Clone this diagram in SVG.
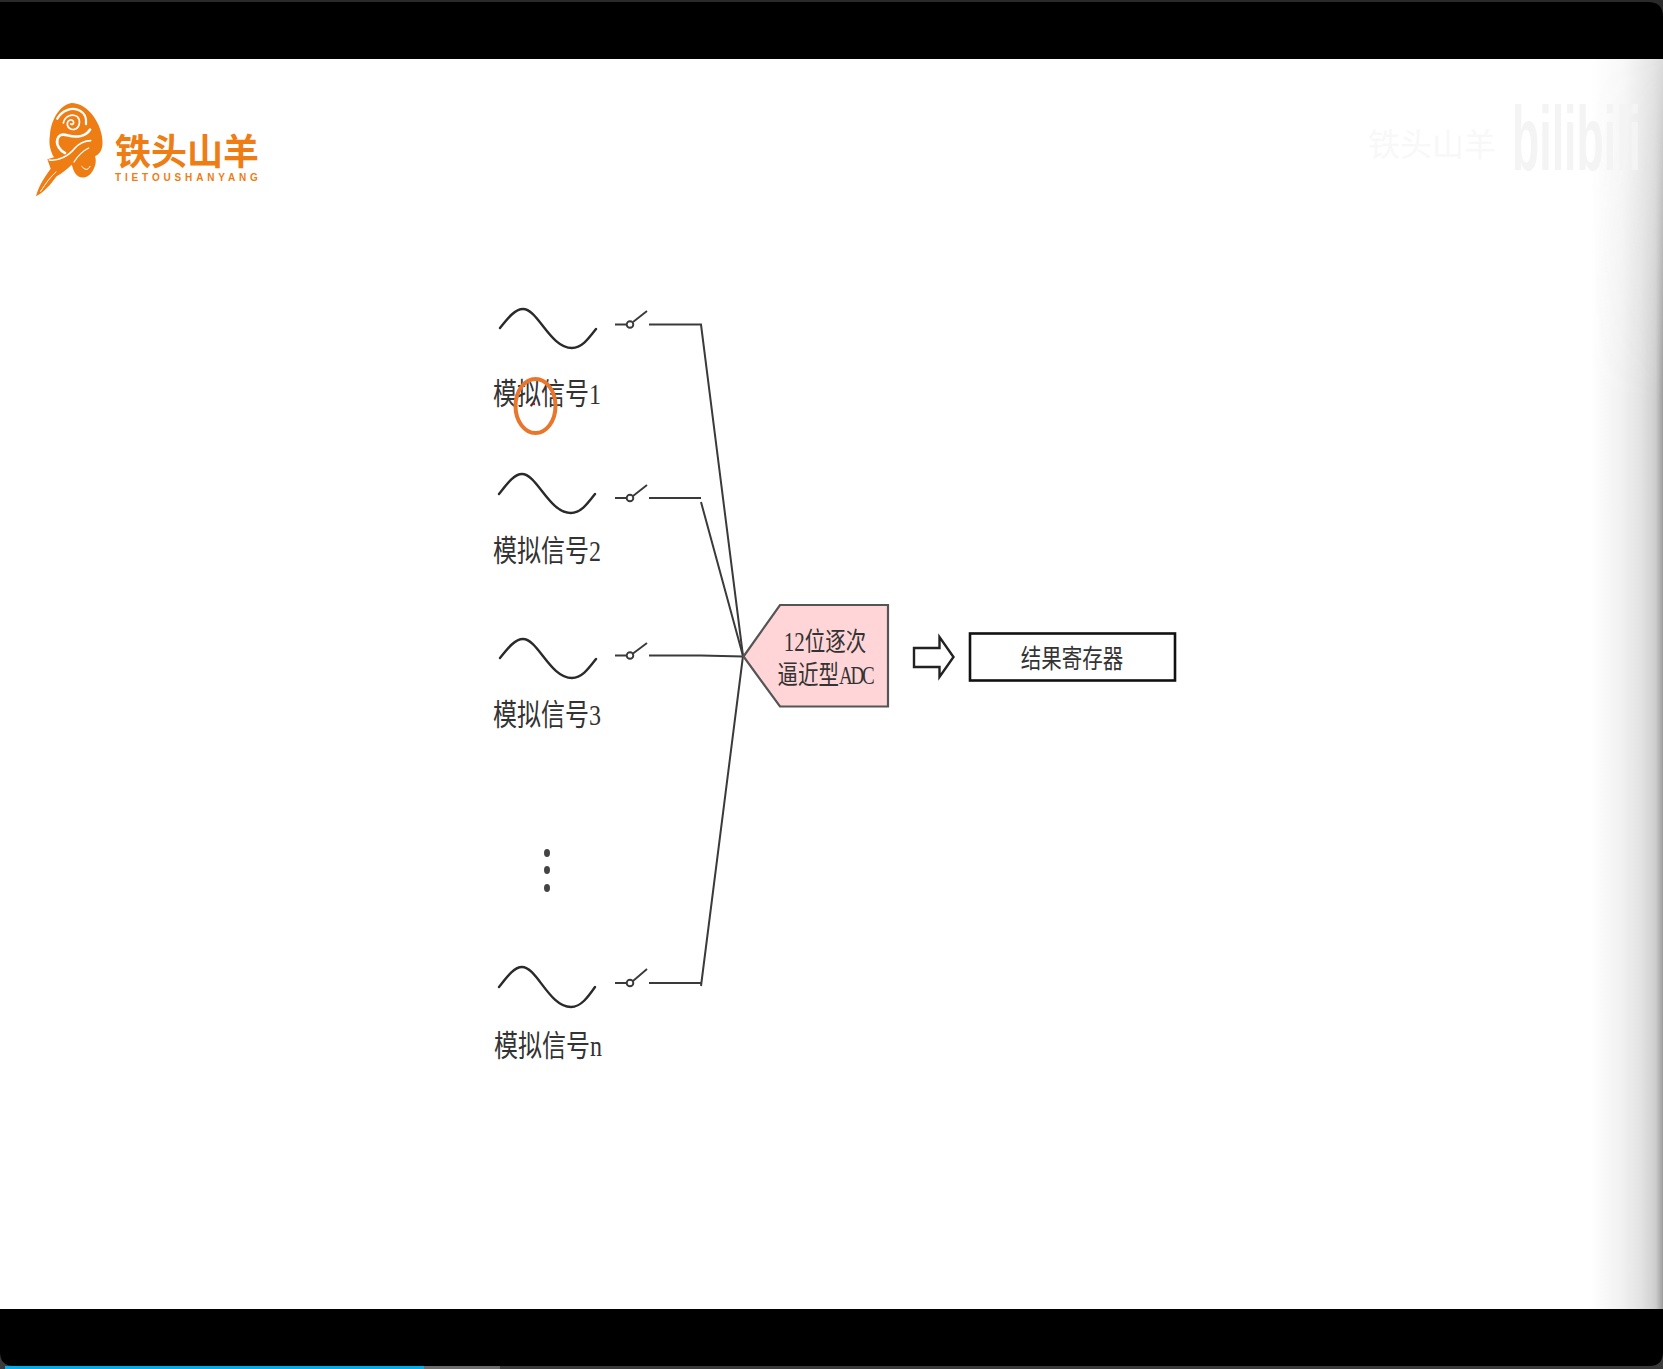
<svg xmlns="http://www.w3.org/2000/svg" width="1663" height="1369" viewBox="0 0 1663 1369">
<defs>
<linearGradient id="fade" x1="0" x2="1" y1="0" y2="0"><stop offset="0" stop-color="#fff"/><stop offset="0.45" stop-color="#f8f8f8"/><stop offset="0.85" stop-color="#e6e6e6"/><stop offset="1" stop-color="#dcdcdc"/></linearGradient>
<linearGradient id="fade2" x1="0" x2="1" y1="0" y2="0"><stop offset="0" stop-color="#888" stop-opacity="0"/><stop offset="0.7" stop-color="#888" stop-opacity="0.1"/><stop offset="0.9" stop-color="#777" stop-opacity="0.2"/><stop offset="1" stop-color="#666" stop-opacity="0.55"/></linearGradient>
<linearGradient id="vert" gradientUnits="userSpaceOnUse" x1="0" x2="0" y1="59" y2="400"><stop offset="0" stop-color="#000"/><stop offset="1" stop-color="#fff"/></linearGradient>
<mask id="lower" maskUnits="userSpaceOnUse" x="1590" y="59" width="73" height="1250"><rect x="1590" y="59" width="73" height="1250" fill="url(#vert)"/></mask>
</defs>
<style>
.lbl{font-family:"Liberation Serif","Noto Sans CJK SC",serif;font-size:24px;fill:#333}
.wave{fill:none;stroke:#2a2a2a;stroke-width:2.4;stroke-linecap:round}
.wire{fill:none;stroke:#3a3a3a;stroke-width:2}
.sw{fill:none;stroke:#3a3a3a;stroke-width:1.9}
.in{font-family:"Liberation Serif","Noto Sans CJK SC",serif;font-size:20.5px;fill:#333}
.logo{fill:#ee7d14}
.cut{fill:none;stroke:#fff;stroke-linecap:round}
</style>
<rect width="1663" height="1369" fill="#fff"/>
<rect x="1590" y="59" width="73" height="1250" fill="url(#fade)"/>
<rect x="1590" y="59" width="73" height="1250" fill="url(#fade2)" mask="url(#lower)"/>
<g id="watermark">
<text x="1368" y="156" font-family="Noto Sans CJK SC,sans-serif" font-size="32" fill="#f8f8f8">铁头山羊</text>
<text transform="translate(1512 170) scale(0.72 1.45)" font-family="Liberation Sans,sans-serif" font-weight="700" font-size="62" fill="#f4f4f4">bilibili</text>
</g>
<rect width="1663" height="59" fill="#2a2a2a"/>
<path d="M0 2H1648Q1663 2 1663 17V59H0Z" fill="#000"/>
<rect y="1309" width="1663" height="60" fill="#3a3a3a"/>
<path d="M0 1309H1663V1352Q1663 1366 1649 1366H14Q0 1366 0 1352Z" fill="#000"/>
<rect x="5" y="1366" width="419" height="3" fill="#00aeec"/>
<rect x="424" y="1366" width="76" height="3" fill="#6d6d6d"/>
<g id="logo">
<g transform="translate(30 98) scale(0.3333)">
<path class="logo" d="M125 15C165 15 205 60 215 110C222 145 215 165 195 175C200 190 196 205 190 215C178 240 150 248 135 225C128 212 128 205 125 200C110 215 95 225 80 235C60 262 40 285 18 295C25 265 45 235 62 212L52 184L72 178C62 160 55 140 60 110C63 65 90 20 125 15Z"/>
<path class="cut" stroke-width="7" d="M82 62C95 38 125 25 150 38C165 46 170 62 168 78"/>
<path class="cut" stroke-width="8" d="M180 95C165 118 135 118 112 112C95 106 85 112 82 125C78 142 92 160 105 165"/>
<path class="cut" stroke-width="5" d="M100 75C104 55 125 45 142 56C152 66 150 85 138 92C126 98 112 92 112 78C112 66 124 62 130 70C133 76 128 82 122 78"/>
<path class="cut" stroke-width="5" d="M58 186C85 190 115 175 135 150C145 138 165 128 182 128"/>
<path class="cut" stroke-width="4" d="M132 192C146 170 160 158 176 150"/>
<path class="cut" stroke-width="3" d="M32 280C48 255 62 236 78 222"/>
<path class="cut" stroke-width="3" d="M155 205C165 215 172 220 180 205"/>
</g>
<text x="115" y="165" font-family="Noto Sans CJK SC,sans-serif" font-weight="700" font-size="36" class="logo">铁头山羊</text>
<text x="115" y="181" font-family="Liberation Sans,sans-serif" font-weight="700" font-size="10" letter-spacing="3.85" class="logo">TIETOUSHANYANG</text>
</g>
<g id="connectors">
<path class="wire" d="M649 324.5H701L743 656"/>
<path class="wire" d="M649 498H701M701 502L743 656"/>
<path class="wire" d="M649 655.5H701L743 656.5"/>
<path class="wire" d="M649 983H702M701 986L743 656"/>
<path d="M914 648H939.5V637L953.5 657L939.5 677V667H914Z" fill="#fff" stroke="#222" stroke-width="2.4"/>
</g>
<g id="signal1">
<path class="wave" d="M500 328C508 318 515 309 523 309C538 309 550 348 572 348C582 348 589 338 596 329"/>
<path class="sw" d="M615 324.5H627M633 322L647 311"/><circle class="sw" cx="630" cy="324.5" r="3.3"/>
<text class="lbl" transform="translate(493 404) scale(1 1.25)">模拟信号1</text>
</g>
<g id="signal2">
<path class="wave" d="M499 494C507 484 514 474 522 474C537 474 549 513 571 513C581 513 588 503 595 494"/>
<path class="sw" d="M615 498H627M633 496L647 485"/><circle class="sw" cx="630" cy="498" r="3.3"/>
<text class="lbl" transform="translate(493 561) scale(1 1.25)">模拟信号2</text>
</g>
<g id="signal3">
<path class="wave" d="M500 658C508 648 515 639 523 639C538 639 550 678 572 678C582 678 589 668 596 659"/>
<path class="sw" d="M615 655.5H627M633 653.5L647 643"/><circle class="sw" cx="630" cy="655.5" r="3.3"/>
<text class="lbl" transform="translate(493 725) scale(1 1.25)">模拟信号3</text>
</g>
<g id="dots" fill="#444">
<ellipse cx="547" cy="853" rx="3" ry="4"/><ellipse cx="547" cy="870" rx="3" ry="4"/><ellipse cx="547" cy="888" rx="3" ry="4"/>
</g>
<g id="signaln">
<path class="wave" d="M499 987C507 977 514 967 522 967C537 967 549 1007 571 1007C581 1007 588 997 595 987"/>
<path class="sw" d="M615 983H627M633 981L647 969"/><circle class="sw" cx="630" cy="983" r="3.3"/>
<text class="lbl" transform="translate(494 1056) scale(1 1.25)">模拟信号n</text>
</g>
<g id="adc">
<path d="M743.5 656.5L780 605H888V706.5H780Z" fill="#ffd5d8" stroke="#555" stroke-width="2.2"/>
<text class="in" text-anchor="middle" transform="translate(825 651) scale(1 1.3)"><tspan font-size="21">12</tspan>位逐次</text>
<text class="in" text-anchor="middle" transform="translate(825 684) scale(1 1.3)">逼近型<tspan font-size="19" letter-spacing="-2.2">ADC</tspan></text>
</g>
<g id="register">
<rect x="970" y="633.5" width="205" height="47" fill="#fff" stroke="#111" stroke-width="2.6"/>
<text class="in" text-anchor="middle" transform="translate(1072 668) scale(1 1.25)">结果寄存器</text>
</g>
<g id="cursor">
<ellipse cx="535.5" cy="406" rx="20" ry="27" fill="none" stroke="#e8762c" stroke-width="4"/>
<circle cx="534" cy="404" r="1.2" fill="#c01030"/>
</g>
</svg>
